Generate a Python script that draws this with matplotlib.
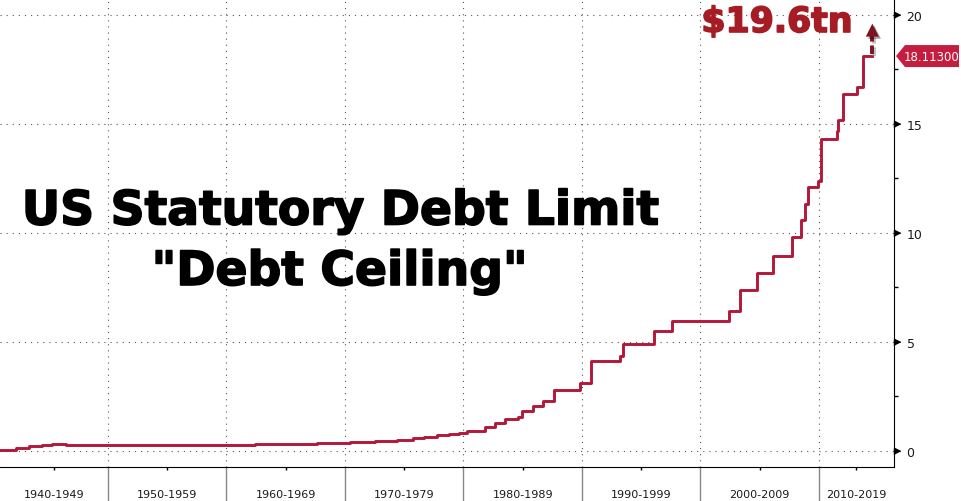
import numpy as np
import matplotlib
matplotlib.use("Agg")
import matplotlib.pyplot as plt
import matplotlib.patheffects as pe
from matplotlib.patches import Polygon
from matplotlib.transforms import IdentityTransform

# statutory debt limit, trillions of USD (step changes, decimal years)
years = [1940.0, 1942.2, 1943.3, 1944.4, 1945.3, 1946.5, 1954.6, 1956.5,
         1958.6, 1959.5, 1962.4, 1964.5, 1965.5, 1967.6, 1969.5, 1970.4,
         1971.3, 1972.5, 1973.5, 1974.4, 1975.7, 1976.7, 1977.8, 1978.8,
         1979.6, 1980.3, 1981.8, 1982.7, 1983.5, 1984.6, 1984.9, 1985.9,
         1986.7, 1987.6, 1989.8, 1990.8, 1993.2, 1993.5, 1996.1, 1997.6,
         2002.4, 2003.3, 2004.8, 2006.1, 2007.7, 2008.5, 2008.8, 2009.1,
         2009.9, 2010.2, 2011.5, 2011.6, 2012.0, 2013.2, 2013.7, 2014.5]
limit = [0.065, 0.125, 0.21, 0.26, 0.30, 0.275, 0.281, 0.278,
         0.288, 0.295, 0.308, 0.324, 0.328, 0.358, 0.377, 0.395,
         0.43, 0.465, 0.475, 0.495, 0.577, 0.636, 0.752, 0.798,
         0.83, 0.935, 1.079, 1.29, 1.49, 1.573, 1.824, 2.079,
         2.3, 2.8, 3.123, 4.145, 4.37, 4.9, 5.5, 5.95,
         6.4, 7.384, 8.184, 8.965, 9.815, 10.615, 11.315, 12.104,
         12.394, 14.294, 14.694, 15.194, 16.394, 16.699, 18.113, 18.113]
projected = 19.6
last_label = "18.11300"
decades = [1940, 1950, 1960, 1970, 1980, 1990, 2000, 2010]
yticks = [0, 5, 10, 15, 20]

RED = "#b3173a"
DARK = "#7a1422"
XLIM = (1940.89, 2016.33)
YLIM = (-0.734, 20.73)

fig = plt.figure(figsize=(9.61, 5.02), dpi=100)
ax = fig.add_axes([0, 34 / 502, 894 / 961, 1 - 34 / 502])
ax.set_xlim(*XLIM)
ax.set_ylim(*YLIM)

ax.step(years, limit, where="post", color=RED, lw=2.1, zorder=3)

# dashed projection arrow up to $19.6tn (head drawn in pixels, 12px tall)
xa = years[-1]
xt, yt = ax.transData.transform((xa, projected))
head_base = ax.transData.inverted().transform((xt, yt - 12))[1]
shadow = [pe.SimpleLineShadow(offset=(1.5, -1.5), shadow_color="gray", alpha=0.5), pe.Normal()]
ax.plot([xa, xa], [limit[-1] + 0.1, head_base], ls=(0, (2.2, 1.0)), color=DARK,
        lw=2.8, zorder=4, solid_capstyle="butt", dash_capstyle="butt", path_effects=shadow)
head = Polygon([(xt, yt), (xt - 6.5, yt - 13), (xt + 6.5, yt - 13)], closed=True,
               transform=IdentityTransform(), facecolor=DARK, edgecolor="none",
               zorder=5, path_effects=[pe.SimplePatchShadow(offset=(1.5, -1.5), alpha=0.4), pe.Normal()])
ax.add_patch(head)
fig.text(777 / 961, 1 - 33 / 502, f"${projected}tn", color="#a51c24", fontsize=25,
         fontweight="bold", ha="center", va="baseline",
         path_effects=[pe.withStroke(linewidth=1.2, foreground="#a51c24")])

# axes styling
for s in ("left", "top"):
    ax.spines[s].set_visible(False)
ax.spines["right"].set_color("black")
ax.spines["bottom"].set_color("black")

ax.set_xticks([d for d in decades if XLIM[0] < d < XLIM[1]])
ax.tick_params(axis="x", which="major", direction="out", length=26, width=1,
               color="#888888", labelbottom=False)
lab_pos, lab_txt = [], []
for d in decades:
    lo, hi = max(d, XLIM[0]), min(d + 10, XLIM[1])
    lab_pos.append((lo + hi) / 2)
    lab_txt.append(f"{d}-{d + 9}")
ax.set_xticks(lab_pos, minor=True)
ax.set_xticklabels(lab_txt, minor=True)
ax.tick_params(axis="x", which="minor", direction="out", length=2.5, width=1,
               color="black", labelsize=8, labelcolor="#1a1a1a", pad=13)

ax.yaxis.tick_right()
ax.set_yticks(yticks)
ax.set_yticks(np.arange(2.5, 20, 5), minor=True)
ax.set_yticklabels([str(t) for t in yticks])
ax.tick_params(axis="y", which="major", length=0, pad=9, labelsize=9, labelcolor="#1a1a1a")
ax.tick_params(axis="y", which="minor", length=3, width=1, color="black", direction="out")
ax.plot(np.ones(len(yticks)), yticks, transform=ax.get_yaxis_transform(),
        marker=[(0, -0.55), (0, 0.55), (1.1, 0)], ms=9, color="black",
        ls="none", clip_on=False, zorder=5)

ax.grid(True, which="major", color="#555555", lw=0.8, ls=(0, (1, 4.5)))
ax.set_axisbelow(True)

# last value tag on the right axis
x0, y0 = ax.transData.transform((XLIM[1], limit[-1]))
tag = Polygon([(x0 + 2, y0), (x0 + 11, y0 + 11), (x0 + 65, y0 + 11),
               (x0 + 65, y0 - 11), (x0 + 11, y0 - 11)],
              closed=True, transform=IdentityTransform(), facecolor="#c41d3f",
              edgecolor="none", clip_on=False, zorder=6)
fig.patches.append(tag)
fig.text((x0 + 38) / 961, y0 / 502, last_label, color="white", fontsize=8.5,
         ha="center", va="center", zorder=7)

bold_fx = [pe.withStroke(linewidth=1.2, foreground="black")]
fig.text(341 / 961, 1 - 225.5 / 502, "US Statutory Debt Limit", fontsize=34,
         fontweight="bold", ha="center", va="baseline", color="black", path_effects=bold_fx)
fig.text(340 / 961, 1 - 286 / 502, "\"Debt Ceiling\"", fontsize=34,
         fontweight="bold", ha="center", va="baseline", color="black", path_effects=bold_fx)

fig.savefig("out.png", dpi=100, facecolor="white")
